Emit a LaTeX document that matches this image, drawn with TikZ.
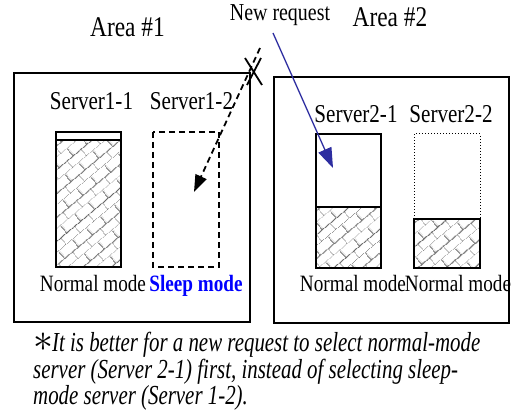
\documentclass[tikz,border=0pt]{standalone}
\usepackage{graphicx}
\usepackage{fontspec}
\setmainfont{Liberation Serif}[FakeStretch=0.82]
\newfontfamily\notefont{Liberation Serif}[FakeStretch=0.76]
\usetikzlibrary{patterns.meta,arrows.meta}

\tikzdeclarepattern{
  name=diagbricks,
  type=uncolored,
  bounding box={(0,0) and (18pt,18pt)},
  tile size={(18pt,18pt)},
  tile transformation={rotate=40},
  code={
    \pgfsetlinewidth{1pt}
    \draw (0,0) -- (18pt,0) (0,9pt) -- (18pt,9pt)
      (0,0) -- (0,9pt) (9pt,9pt) -- (9pt,18pt);
  }
}

\definecolor{reqblue}{RGB}{45,45,160}

\tikzset{
  lbl/.style={inner sep=0pt, anchor=base},
  arealbl/.style={lbl, font=\fontsize{28.5}{30}\selectfont},
  srvlbl/.style={lbl, font=\fontsize{25.7}{28}\selectfont},
  modelbl/.style={lbl, font=\fontsize{23.4}{26}\selectfont},
  frame/.style={line width=1.8pt},
  load/.style={pattern=diagbricks, pattern color=black!60},
}

\begin{document}
\begin{tikzpicture}[x=1pt,y=-1pt]
\useasboundingbox (0,0) rectangle (511,419);

% the two areas
\draw[frame] (14,73) rectangle (250,322);
\draw[frame] (274,77) rectangle (509,323);

\node[arealbl] (area1) at (127.5,37) {Area \#1};
\node[arealbl] (area2) at (390,27) {Area \#2};
\node[lbl, font=\fontsize{24.3}{26}\selectfont] (newreq) at (280,21) {New request};

\node[srvlbl] (s11) at (91.5,110) {Server1-1};
\node[srvlbl] (s12) at (191.5,110) {Server1-2};
\node[srvlbl] (s21) at (356,123) {Server2-1};
\node[srvlbl] (s22) at (451,123) {Server2-2};

% servers
\fill[load] (55.7,140) rectangle (121,267);
\draw[frame] (55.7,132) rectangle (121,267);
\draw[frame] (55.7,140) -- (121,140);
\draw[frame, dash pattern=on 6pt off 4pt] (153,132) rectangle (219,267);
\fill[load] (316,207) rectangle (381,268);
\draw[frame] (316,134) rectangle (381,268);
\draw[frame] (316,207) -- (381,207);
\draw[line width=1pt, dotted] (414,219) -- (414,134) -- (480,134) -- (480,219);
\fill[load] (414,219) rectangle (480,268);
\draw[frame] (414,219) rectangle (480,268);

\node[modelbl] (m11) at (93,292) {Normal mode};
\node[modelbl, text=blue, font=\fontsize{23.4}{26}\selectfont\bfseries] (m12) at (196,292) {Sleep mode};
\node[modelbl] (m21) at (353,292) {Normal mode};
\node[modelbl] (m22) at (458,292) {Normal mode};

% requests
\coordinate (from1) at (260,48);
\coordinate (to1) at (194,192);
\coordinate (from2) at (273,33);
\coordinate (to2) at (333,168);
\draw[line width=1.8pt, dash pattern=on 6pt off 4pt, -{Triangle[length=17pt,width=12pt]}] (from1) -- (to1);
\draw[line width=1.8pt] (245,58) -- (262,85) (261,58) -- (247,85);
\draw[reqblue, line width=1.3pt, -{Triangle[length=20pt,width=14pt]}] (from2) -- (to2);

% note
\node[anchor=base west, inner sep=0pt, align=left, font=\fontsize{27.5}{23.5}\selectfont\notefont\itshape] (note) at (33,404)
  {\scalebox{1.6}{$\ast$}\kern-1pt It is better for a new request to select normal-mode\\
   server (Server 2-1) first, instead of selecting sleep-\\
   mode server (Server 1-2).};
\end{tikzpicture}
\end{document}
